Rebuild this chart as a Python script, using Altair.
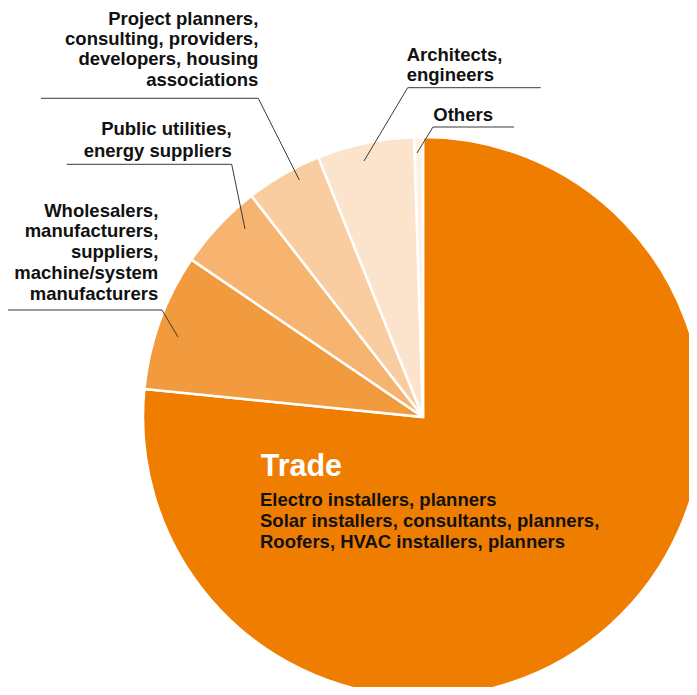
import altair as alt
import pandas as pd

# ---- data ----
categories = ["Trade", "Wholesalers", "Public utilities", "Project planners", "Architects", "Others"]
shares = [76.6, 7.9, 5.0, 4.4, 5.6, 0.5]
palette = ["#EF7D00", "#F29A3E", "#F6B470", "#F9CD9F", "#FCE4CC", "#FEF1E4"]

label_texts = {
    "Project planners": ["Project planners,", "consulting, providers,", "developers, housing", "associations"],
    "Public utilities": ["Public utilities,", "energy suppliers"],
    "Wholesalers": ["Wholesalers,", "manufacturers,", "suppliers,", "machine/system", "manufacturers"],
    "Architects": ["Architects,", "engineers"],
    "Others": ["Others"],
}
trade_title = "Trade"
trade_lines = ["Electro installers, planners",
               "Solar installers, consultants, planners,",
               "Roofers, HVAC installers, planners"]

# ---- layout (annotation placement, pixels in chart space) ----
W, H = 681, 679
CX, CY, R = 415, 409, 280
FONT = "Liberation Sans"

pie_df = pd.DataFrame({"category": categories, "share": shares, "order": list(range(len(categories)))})

pie = alt.Chart(pie_df).mark_arc(
    outerRadius=R, stroke="white", strokeWidth=2.5
).encode(
    theta=alt.Theta("share:Q", stack=True),
    order=alt.Order("order:Q"),
    color=alt.Color("category:N", scale=alt.Scale(domain=categories, range=palette), legend=None),
    x=alt.value(CX),
    y=alt.value(CY),
)

# label placement: (anchor x, first baseline y, align, line height)
label_layout = {
    "Project planners": (250.3, 16.5, "right", 20.4),
    "Public utilities": (223.7, 127, "right", 21.7),
    "Wholesalers": (150.3, 208.7, "right", 20.8),
    "Architects": (398.7, 53, "left", 20),
    "Others": (425.3, 113, "left", 20),
}

# leader segments: horizontal underline + diagonal pointer
leader_layout = {
    "Project planners": [(33, 90.3, 250.3, 90.3), (250.3, 90.3, 291.3, 172)],
    "Public utilities": [(58.7, 156.3, 223.7, 156.3), (223.7, 156.3, 237, 221)],
    "Wholesalers": [(-1, 302, 154, 302), (154, 302, 170, 329)],
    "Architects": [(399.7, 79.7, 532.7, 79.7), (399.7, 79.7, 356, 153)],
    "Others": [(425, 119, 506, 119), (425, 119, 409, 145)],
}
seg_rows = []
for k, segs in leader_layout.items():
    for (x1, y1, x2, y2) in segs:
        seg_rows.append({"cat": k, "x": x1, "y": y1, "x2": x2, "y2": y2})
seg_df = pd.DataFrame(seg_rows)

leaders = alt.Chart(seg_df).mark_rule(color="#3a3a3a", strokeWidth=1).encode(
    x=alt.X("x:Q", scale=None),
    y=alt.Y("y:Q", scale=None),
    x2="x2:Q",
    y2="y2:Q",
)

layers = [pie, leaders]
for k, lines in label_texts.items():
    lx, ly, al, lh = label_layout[k]
    df = pd.DataFrame({"label": ["\n".join(lines)]})
    layers.append(
        alt.Chart(df).mark_text(
            font=FONT, fontSize=18.5, fontWeight="bold", color="#111111",
            align=al, baseline="alphabetic", lineBreak="\n", lineHeight=lh,
        ).encode(text="label:N", x=alt.value(lx), y=alt.value(ly))
    )

layers.append(
    alt.Chart(pd.DataFrame({"label": [trade_title]})).mark_text(
        font=FONT, fontSize=30.5, fontWeight="bold", color="white",
        align="left", baseline="alphabetic",
    ).encode(text="label:N", x=alt.value(252.7), y=alt.value(467.7))
)
layers.append(
    alt.Chart(pd.DataFrame({"label": ["\n".join(trade_lines)]})).mark_text(
        font=FONT, fontSize=18.5, fontWeight="bold", color="#111111",
        align="left", baseline="alphabetic", lineBreak="\n", lineHeight=21.2,
    ).encode(text="label:N", x=alt.value(252), y=alt.value(498))
)

chart = alt.layer(*layers).properties(
    width=W, height=H, padding=0,
    autosize=alt.AutoSizeParams(type="none"),
    background="white",
).configure_view(strokeWidth=0)

chart.save("out.html", embed_options={"renderer": "svg", "actions": False})
